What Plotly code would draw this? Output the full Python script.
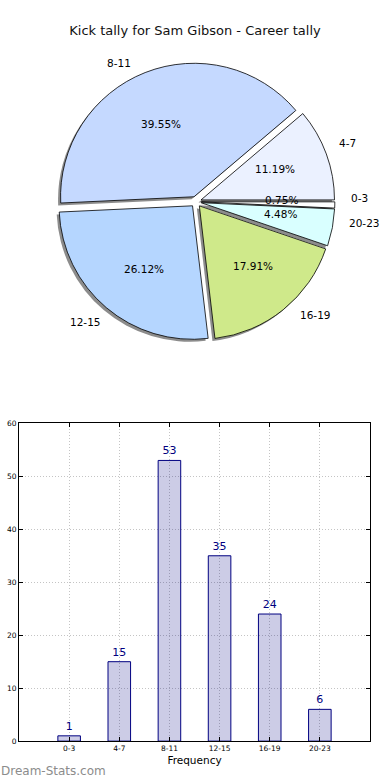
import math
import plotly.graph_objects as go

# ---------------- data ----------------
title_text = "Kick tally for Sam Gibson - Career tally"
categories = ["0-3", "4-7", "8-11", "12-15", "16-19", "20-23"]
counts = [1, 15, 53, 35, 24, 6]
slice_colors = ["#ffffff", "#ebf1ff", "#c5d9ff", "#b5d6ff", "#cfe98a", "#d9ffff"]
y_ticks = [0, 10, 20, 30, 40, 50, 60]
x_axis_title = "Frequency"
watermark = "Dream-Stats.com"

# ---------------- geometry helpers ----------------
W, H = 390, 780
H_EFF = 774.0  # empirical vertical calibration of the rendered page
FONT = "DejaVu Sans"


def px_x(px):
    return px / W


def px_y(py):
    return 1 - py / H_EFF


# pie geometry (pixels)
CX, CY, R = 196.0, 198.5, 134.0
PULL = 0.04
half = R * (1 + PULL)
dom_x = [px_x(CX - half), px_x(CX + half)]
dom_y = [px_y(CY + half), px_y(CY - half)]
SH = 2.5
shadow_dom_x = [px_x(CX - half - SH), px_x(CX + half - SH)]
shadow_dom_y = [px_y(CY + half + SH), px_y(CY - half + SH)]

fig = go.Figure()

# shadow pie
fig.add_trace(go.Pie(
    labels=categories, values=counts, sort=False,
    direction="counterclockwise", rotation=90,
    pull=[PULL] * len(counts),
    marker=dict(colors=["#8c8c8c"] * len(counts), line=dict(width=0)),
    textinfo="none", hoverinfo="skip", showlegend=False,
    domain=dict(x=shadow_dom_x, y=shadow_dom_y),
))

# main pie
fig.add_trace(go.Pie(
    labels=categories, values=counts, sort=False,
    direction="counterclockwise", rotation=90,
    pull=[PULL] * len(counts),
    marker=dict(colors=slice_colors, line=dict(color="#000000", width=0.8)),
    textinfo="none", showlegend=False,
    domain=dict(x=dom_x, y=dom_y),
))

annotations = []
total = sum(counts)
cum = 0
for lab, v in zip(categories, counts):
    mid = (cum + v / 2) / total * 2 * math.pi
    cum += v
    c, s = math.cos(mid), math.sin(mid)
    # outer label
    lx = CX + (PULL + 1.1) * R * c
    ly = CY - (PULL + 1.1) * R * s
    annotations.append(dict(
        x=px_x(lx), y=px_y(ly), xref="paper", yref="paper",
        text=lab, showarrow=False,
        xanchor="left" if c > 0 else "right", yanchor="middle",
        font=dict(family=FONT, size=10.5, color="#000000"),
    ))
    # percent
    tx = CX + (PULL + 0.6) * R * c
    ty = CY - (PULL + 0.6) * R * s
    annotations.append(dict(
        x=px_x(tx), y=px_y(ty), xref="paper", yref="paper",
        text="%.2f%%" % (100.0 * v / total), showarrow=False,
        xanchor="center", yanchor="middle",
        font=dict(family=FONT, size=10.5, color="#000000"),
    ))

annotations.append(dict(
    x=px_x(-1), y=px_y(770), xref="paper", yref="paper", text=watermark,
    showarrow=False, xanchor="left", yanchor="middle",
    font=dict(family=FONT, size=12, color="#8c8c8c"),
))

# bar chart
fig.add_trace(go.Bar(
    x=categories, y=counts, width=0.45,
    marker=dict(color="rgba(0,0,128,0.2)", line=dict(color="#000080", width=1)),
    text=[str(v) for v in counts], textposition="outside",
    textfont=dict(family=FONT, size=11, color="#000080"),
    cliponaxis=False, showlegend=False, hoverinfo="skip",
    xaxis="x", yaxis="y",
))

axis_common = dict(
    showline=True, linecolor="#000000", linewidth=1, mirror="ticks",
    ticks="inside", ticklen=4, tickcolor="#000000",
    showgrid=True, gridcolor="#c4c4c4", griddash="1px,2px", gridwidth=1,
    zeroline=False, tickfont=dict(family=FONT, size=7.5, color="#000000"),
)

fig.update_layout(
    width=W, height=H,
    margin=dict(l=0, r=0, t=0, b=0),
    paper_bgcolor="#ffffff", plot_bgcolor="#ffffff",
    font=dict(family=FONT, color="#000000"),
    showlegend=False,
    title=dict(text=title_text, x=0.5, xanchor="center", y=px_y(30), yanchor="middle",
               font=dict(family=FONT, size=13, color="#111111")),
    xaxis=dict(domain=[px_x(19), px_x(370)], range=[-1, 6], type="category",
               title=dict(text=x_axis_title, font=dict(family=FONT, size=10.5), standoff=4),
               **axis_common),
    yaxis=dict(domain=[px_y(740), px_y(421)], range=[0, 60], tickvals=y_ticks,
               **axis_common),
    annotations=annotations,
)

post = (
    "var d=document;"
    "d.body.style.margin='0';d.body.style.overflow='hidden';"
)

fig.write_html("out.html", config={"displayModeBar": False}, post_script=post)
